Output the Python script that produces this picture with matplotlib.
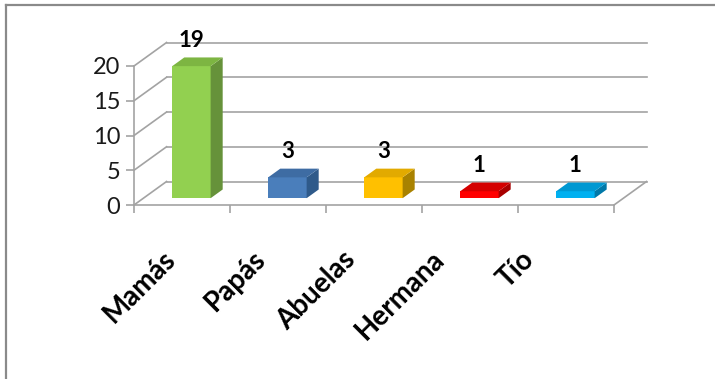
import matplotlib
matplotlib.use("Agg")
import matplotlib.pyplot as plt
from matplotlib.patches import Polygon
from matplotlib.lines import Line2D

categories = ["Mamás", "Papás", "Abuelas", "Hermana", "Tío"]
values = [19, 3, 3, 1, 1]
y_ticks = [0, 5, 10, 15, 20]

front_colors = ["#92D050", "#4A7EBB", "#FFC000", "#FF0000", "#00B0F0"]
top_colors = ["#7DB542", "#3E6CA3", "#E2AA00", "#D40000", "#0098D2"]
side_colors = ["#66923A", "#2F5A8A", "#A98200", "#A80000", "#0078A8"]

GRID = "#A3A3A3"
FONT = "Lato"

# depth of the 3d box in data units (x: categories, y: values)
DDX, DDY = 0.339, 3.38
T_FRONT, T_BACK = 0.29, 0.66
HALF_W = 0.2

fig = plt.figure(figsize=(7.15, 3.79), dpi=100, facecolor="white")
ax = fig.add_axes([134 / 715, 1 - 205 / 379, 480 / 715, 139 / 379])
ax.set_xlim(-0.5, len(categories) - 0.5)
ax.set_ylim(0, 20)
ax.patch.set_visible(False)
for side in ("top", "right"):
    ax.spines[side].set_visible(False)
for side in ("left", "bottom"):
    ax.spines[side].set_color(GRID)
    ax.spines[side].set_linewidth(1.2)

ax.set_yticks(y_ticks)
ax.set_yticklabels([str(v) for v in y_ticks], fontfamily=FONT, fontsize=17)
ax.set_xticks([i - 0.5 for i in range(len(categories) + 1)])
ax.set_xticklabels([])
ax.tick_params(axis="both", color=GRID, width=1.2, length=6, direction="out")
ax.tick_params(axis="y", pad=4, labelcolor="#1A1A1A")

x0, x1 = -0.5, len(categories) - 0.5
# back wall gridlines and side wall diagonals
for v in y_ticks:
    ax.add_line(Line2D([x0 + DDX, x1 + DDX], [v + DDY, v + DDY], color=GRID, lw=1.2, clip_on=False, zorder=1))
    ax.add_line(Line2D([x0, x0 + DDX], [v, v + DDY], color=GRID, lw=1.2, clip_on=False, zorder=1))
# right floor edge
ax.add_line(Line2D([x1, x1 + DDX], [0, DDY], color=GRID, lw=1.2, clip_on=False, zorder=1))

for i, v in enumerate(values):
    fx0 = i - HALF_W + T_FRONT * DDX
    fx1 = i + HALF_W + T_FRONT * DDX
    fy0 = T_FRONT * DDY
    fy1 = v + T_FRONT * DDY
    d = T_BACK - T_FRONT
    bx, by = d * DDX, d * DDY
    front = Polygon([(fx0, fy0), (fx1, fy0), (fx1, fy1), (fx0, fy1)], closed=True,
                    facecolor=front_colors[i], edgecolor="none", clip_on=False, zorder=3)
    side = Polygon([(fx1, fy0), (fx1 + bx, fy0 + by), (fx1 + bx, fy1 + by), (fx1, fy1)], closed=True,
                   facecolor=side_colors[i], edgecolor="none", clip_on=False, zorder=3)
    top = Polygon([(fx0, fy1), (fx1, fy1), (fx1 + bx, fy1 + by), (fx0 + bx, fy1 + by)], closed=True,
                  facecolor=top_colors[i], edgecolor="none", clip_on=False, zorder=3)
    for p in (front, side, top):
        ax.add_patch(p)
    ax.annotate(str(v), xy=(i + T_FRONT * DDX, fy1 + by), xytext=(0, 7.5), textcoords="offset points",
                ha="center", va="baseline", fontfamily=FONT, fontsize=16, fontweight="bold",
                color="black", annotation_clip=False, zorder=5)

# rotated category labels
for i, name in enumerate(categories):
    ax.text(-0.11 + 0.935 * i, -0.36, name, transform=ax.get_xaxis_transform(),
            rotation=45, rotation_mode="anchor", ha="right", va="center",
            fontfamily=FONT, fontsize=20, fontweight="bold", color="black")

# outer chart frame (only left and top visible)
fig.add_artist(Line2D([6 / 715, 6 / 715], [0, 1 - 5 / 379], transform=fig.transFigure, color="#8A8A8A", lw=1.6))
fig.add_artist(Line2D([6 / 715, 1], [1 - 5 / 379, 1 - 5 / 379], transform=fig.transFigure, color="#8A8A8A", lw=1.6))

fig.savefig("out.png", dpi=100, facecolor="white")
